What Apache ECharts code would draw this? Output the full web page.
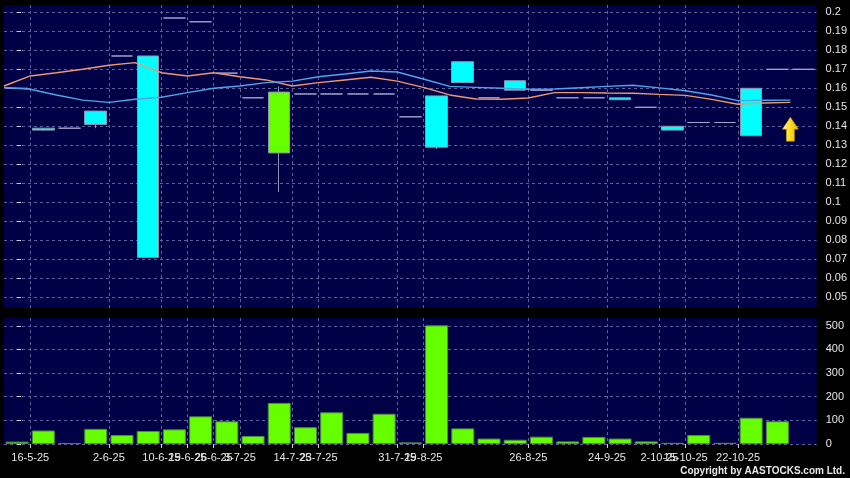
<!DOCTYPE html>
<html>
<head>
<meta charset="utf-8">
<script src="https://cdn.jsdelivr.net/npm/echarts@6/dist/echarts.min.js"></script>
<style>
html,body{margin:0;padding:0;background:#000;}
#chart{width:850px;height:478px;}
</style>
</head>
<body>
<div id="chart"></div>
<script>
// ---- data ----
// candle per slot: [open, close, low, high]
const candleOpen  = [0.160,0.139,0.139,0.148,0.177,0.177,0.197,0.195,0.168,0.155,0.126,0.157,0.157,0.157,0.157,0.145,0.156,0.174,0.155,0.164,0.159,0.155,0.155,0.155,0.150,0.140,0.142,0.142,0.160,0.170,0.170];
const candleClose = [0.160,0.138,0.139,0.141,0.177,0.071,0.197,0.195,0.168,0.155,0.158,0.157,0.157,0.157,0.157,0.145,0.129,0.163,0.155,0.159,0.159,0.155,0.155,0.154,0.150,0.138,0.142,0.142,0.135,0.170,0.170];
const candleLow   = [0.160,0.1375,0.139,0.139,0.177,0.071,0.197,0.195,0.168,0.155,0.1055,0.157,0.157,0.157,0.157,0.145,0.128,0.163,0.155,0.159,0.159,0.155,0.155,0.154,0.150,0.138,0.142,0.142,0.135,0.170,0.170];
const candleHigh  = [0.160,0.139,0.139,0.148,0.177,0.177,0.197,0.195,0.168,0.155,0.161,0.157,0.157,0.157,0.157,0.145,0.156,0.174,0.155,0.164,0.159,0.155,0.155,0.155,0.150,0.140,0.142,0.142,0.160,0.170,0.170];
const volume      = [10,57,4,64,38,55,62,117,96,34,174,71,134,47,128,7,502,66,23,18,31,11,30,23,11,5,38,5,111,96,null];
// moving averages, one value per slot edge (from the left edge of slot 0 to the right edge of slot 29)
const maOrange = [0.1612,0.1665,0.1682,0.1700,0.1721,0.1735,0.1682,0.1665,0.1682,0.1661,0.1644,0.1612,0.1630,0.1644,0.1658,0.1638,0.1605,0.1565,0.1544,0.1542,0.1549,0.1577,0.1577,0.1575,0.1574,0.1568,0.1563,0.1542,0.1516,0.1523,0.1526];
const maBlue   = [0.1605,0.1595,0.1565,0.1538,0.1526,0.1542,0.1553,0.1577,0.1600,0.1612,0.1630,0.1638,0.1661,0.1675,0.1691,0.1686,0.1649,0.1610,0.1605,0.1600,0.1595,0.1596,0.1603,0.1610,0.1616,0.1602,0.1587,0.1565,0.1535,0.1537,0.1538];
// date labels, each sits on the edge after the given slot
const tickLabels    = ['16-5-25','2-6-25','10-6-25','19-6-25','26-6-25','3-7-25','14-7-25','23-7-25','31-7-25','19-8-25','26-8-25','24-9-25','2-10-25','15-10-25','22-10-25'];
const tickAfterSlot = [0,3,5,6,7,8,10,11,14,15,19,22,24,25,27];
const priceTicks  = [0.05,0.06,0.07,0.08,0.09,0.1,0.11,0.12,0.13,0.14,0.15,0.16,0.17,0.18,0.19,0.2];
const volumeTicks = [0,100,200,300,400,500];
const priceRange  = [0.04437, 0.20384];
const volumeRange = [0, 533];
const arrowMark   = {slot: 29.5, value: 0.1385};

// ---- chart ----
const nSlots = candleOpen.length;
const slots = candleOpen.map((_, i) => 'S' + i);
const candleData = candleOpen.map((o, i) => [o, candleClose[i], candleLow[i], candleHigh[i]]);
const edgeX = k => k - 0.5;
const tickVals = tickAfterSlot.map(s => s + 0.5);

const FONT = 'Liberation Sans, Arial, sans-serif';
const gridLine = {show: true, lineStyle: {color: '#5f5f9c', type: [3, 3], width: 1}};
const chart = echarts.init(document.getElementById('chart'), null, {renderer: 'canvas'});
const yLabel = {color: '#e6e6e6', fontFamily: FONT, fontSize: 11, margin: 5};

chart.setOption({
  backgroundColor: '#000000',
  animation: false,
  title: {
    text: 'Copyright by AASTOCKS.com Ltd.',
    right: 5, bottom: 2, padding: 0,
    textStyle: {color: '#e8e8e8', fontSize: 10, fontWeight: 'bold', fontFamily: FONT}
  },
  grid: [
    {left: 4, right: 33.3, top: 5, height: 303, show: true, backgroundColor: '#000046', borderWidth: 0},
    {left: 4, right: 33.3, top: 318, height: 126, show: true, backgroundColor: '#000046', borderWidth: 0}
  ],
  xAxis: [
    {type: 'category', gridIndex: 0, position: 'bottom', data: slots, boundaryGap: true, show: false},
    {type: 'value', gridIndex: 0, position: 'bottom', min: -0.5, max: nSlots - 0.5,
      axisLine: {show: false}, axisLabel: {show: false, customValues: tickVals},
      axisTick: {show: false, customValues: tickVals}, splitLine: gridLine},
    {type: 'category', gridIndex: 1, position: 'bottom', data: slots, boundaryGap: true, show: false},
    {type: 'value', gridIndex: 1, position: 'bottom', min: -0.5, max: nSlots - 0.5,
      axisLine: {show: false},
      axisTick: {show: true, length: 4, customValues: tickVals, lineStyle: {color: '#d0d0d0', width: 1}},
      axisLabel: {customValues: tickVals, margin: 8, fontSize: 11, color: '#e6e6e6', fontFamily: FONT,
        formatter: v => { const j = tickVals.findIndex(t => Math.abs(t - v) < 1e-6); return j >= 0 ? tickLabels[j] : ''; }},
      splitLine: gridLine}
  ],
  yAxis: [
    {type: 'value', gridIndex: 0, position: 'right', min: priceRange[0], max: priceRange[1], offset: 4,
      axisLine: {show: false},
      axisTick: {show: true, length: 4, customValues: priceTicks, lineStyle: {color: '#d0d0d0', width: 1}},
      axisLabel: Object.assign({customValues: priceTicks, formatter: v => String(+v.toFixed(2))}, yLabel),
      splitLine: gridLine},
    {type: 'value', gridIndex: 1, position: 'right', min: volumeRange[0], max: volumeRange[1], offset: 4,
      axisLine: {show: false},
      axisTick: {show: true, length: 4, customValues: volumeTicks, lineStyle: {color: '#d0d0d0', width: 1}},
      axisLabel: Object.assign({customValues: volumeTicks}, yLabel),
      splitLine: gridLine}
  ],
  series: [
    {type: 'candlestick', xAxisIndex: 0, yAxisIndex: 0, data: candleData, barWidth: 22,
      itemStyle: {color: '#66ff00', color0: '#00ffff', borderColor: '#8a96b0', borderColor0: '#8a96b0', borderColorDoji: '#a4a4cc', borderWidth: 1}},
    {type: 'line', xAxisIndex: 1, yAxisIndex: 0, data: maOrange.map((v, k) => [edgeX(k), v]),
      symbol: 'none', lineStyle: {color: '#ec9870', width: 1.4}, z: 3},
    {type: 'line', xAxisIndex: 1, yAxisIndex: 0, data: maBlue.map((v, k) => [edgeX(k), v]),
      symbol: 'none', lineStyle: {color: '#50a4ea', width: 1.4}, z: 3},
    {type: 'scatter', xAxisIndex: 1, yAxisIndex: 0, data: [[arrowMark.slot, arrowMark.value]],
      symbol: 'path://M8,0 L16,12 L12,12 L12,24 L4,24 L4,12 L0,12 Z', symbolSize: [16, 24],
      itemStyle: {opacity: 1, color: new echarts.graphic.LinearGradient(0, 0, 1, 0, [{offset: 0, color: '#fffbd0'}, {offset: 0.4, color: '#ffe22a'}, {offset: 1, color: '#f0b400'}]), borderColor: '#c89400', borderWidth: 0.6}, z: 5},
    {type: 'bar', xAxisIndex: 2, yAxisIndex: 1, data: volume, barWidth: 23,
      itemStyle: {color: '#66ff00', borderColor: '#4c8a40', borderWidth: 1}}
  ]
});
</script>
</body>
</html>
